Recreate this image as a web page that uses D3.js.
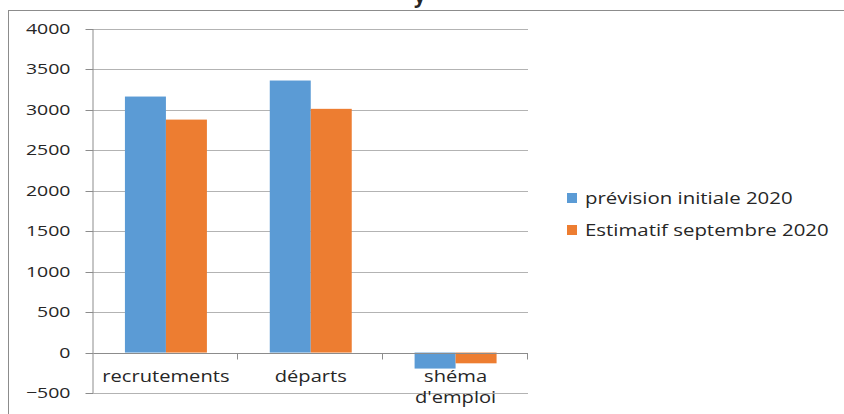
<!DOCTYPE html>
<html>
<head>
<meta charset="utf-8">
<script src="https://cdn.jsdelivr.net/npm/d3@7"></script>
<style>
  html, body { margin: 0; padding: 0; background: #fff; }
  svg { display: block; font-family: "Open Sans", sans-serif; }
  text { fill: #262626; }
</style>
</head>
<body>
<div id="chart"></div>
<script>
const categories = ["recrutements", "départs", "shéma\nd'emploi"];
const series = ["prévision initiale 2020", "Estimatif septembre 2020"];
const prevision = [3165, 3363, -198];
const estimatif = [2880, 3013, -133];
const yTicks = [-500, 0, 500, 1000, 1500, 2000, 2500, 3000, 3500, 4000];
const colors = ["#5b9bd5", "#ed7d31"];

const width = 844;
const height = 414;
const plot = {left: 93.5, right: 528, top: 29, bottom: 393};
const stretch = 1.3;

const svg = d3.select("#chart").append("svg")
  .attr("width", width)
  .attr("height", height);

// outer chart frame (cut off on the right and bottom)
svg.append("rect")
  .attr("x", 8.5)
  .attr("y", 10.5)
  .attr("width", width)
  .attr("height", height)
  .attr("fill", "none")
  .attr("stroke", "#8c8c8c");

// title is mostly outside the picture, only a descender shows
svg.append("text")
  .attr("x", 414)
  .attr("y", 3)
  .attr("font-size", 20)
  .attr("font-weight", "bold")
  .attr("fill", "#000")
  .text("y");

const y = d3.scaleLinear()
  .domain([-500, 4000])
  .range([plot.bottom, plot.top]);

const x0 = d3.scaleBand()
  .domain(categories)
  .range([plot.left, plot.right]);

const gap = x0.bandwidth() * 0.217;
const x1 = d3.scaleBand()
  .domain(series)
  .range([gap, x0.bandwidth() - gap]);

// gridlines
svg.append("g")
  .selectAll("line")
  .data(yTicks.filter((d) => d !== 0))
  .join("line")
    .attr("x1", plot.left)
    .attr("x2", plot.right)
    .attr("y1", (d) => Math.round(y(d)) + 0.5)
    .attr("y2", (d) => Math.round(y(d)) + 0.5)
    .attr("stroke", "#b3b3b3");

// y axis
const yaxis = d3.axisLeft(y)
  .tickValues(yTicks)
  .tickSize(8)
  .tickPadding(15)
  .tickFormat(d3.format("d"));

const gy = svg.append("g")
  .attr("transform", "translate(" + plot.left + ",0)")
  .call(yaxis);
gy.selectAll(".tick").attr("transform", (d) => "translate(0," + (Math.round(y(d)) + 0.5) + ")");
gy.select(".domain").attr("stroke", "#8c8c8c").attr("d", "M-0.5," + plot.top + "V" + plot.bottom);
gy.selectAll(".tick line").attr("stroke", "#8c8c8c");
gy.selectAll(".tick text")
  .attr("font-size", 15)
  .attr("fill", "#262626")
  .attr("font-family", "Open Sans")
  .attr("transform", "translate(-23,0) scale(" + stretch + ",1)")
  .attr("x", 0);

// bars
const rows = categories.map((c, i) => ({cat: c, values: [prevision[i], estimatif[i]]}));

svg.append("g")
  .selectAll("g")
  .data(rows)
  .join("g")
    .attr("transform", (d) => "translate(" + x0(d.cat) + ",0)")
  .selectAll("rect")
  .data((d) => d.values.map((v, j) => ({key: series[j], value: v, color: colors[j]})))
  .join("rect")
    .attr("x", (d) => x1(d.key))
    .attr("width", x1.bandwidth())
    .attr("y", (d) => y(Math.max(0, d.value)))
    .attr("height", (d) => Math.abs(y(d.value) - y(0)))
    .attr("fill", (d) => d.color);

// category axis at zero
const zeroY = Math.round(y(0)) + 0.5;
svg.append("line")
  .attr("x1", plot.left)
  .attr("x2", plot.right)
  .attr("y1", zeroY)
  .attr("y2", zeroY)
  .attr("stroke", "#8c8c8c");

svg.append("g")
  .selectAll("line")
  .data(categories.slice(1).concat(["end"]))
  .join("line")
    .attr("x1", (d) => Math.round(d === "end" ? plot.right : x0(d)) - 0.5)
    .attr("x2", (d) => Math.round(d === "end" ? plot.right : x0(d)) - 0.5)
    .attr("y1", zeroY)
    .attr("y2", zeroY + 6)
    .attr("stroke", "#8c8c8c");

const catLabels = svg.append("g")
  .selectAll("text")
  .data(categories)
  .join("text")
    .attr("text-anchor", "middle")
    .attr("font-size", 16.5)
    .attr("transform", (d) => "translate(" + (x0(d) + x0.bandwidth() / 2) + ",382) scale(1.22,1)");

catLabels.selectAll("tspan")
  .data((d) => d.split("\n"))
  .join("tspan")
    .attr("x", 0)
    .attr("dy", (d, i) => i === 0 ? 0 : 21)
    .text((d) => d);

// legend
const legend = svg.append("g")
  .selectAll("g")
  .data(series)
  .join("g")
    .attr("transform", (d, i) => "translate(567," + (198 + i * 32) + ")");

legend.append("rect")
  .attr("x", 0)
  .attr("y", -5)
  .attr("width", 10)
  .attr("height", 10)
  .attr("fill", (d, i) => colors[i]);

legend.append("text")
  .attr("font-size", 17)
  .attr("dy", "0.35em")
  .attr("transform", "translate(18,0) scale(1.2,1)")
  .text((d) => d);
</script>
</body>
</html>
